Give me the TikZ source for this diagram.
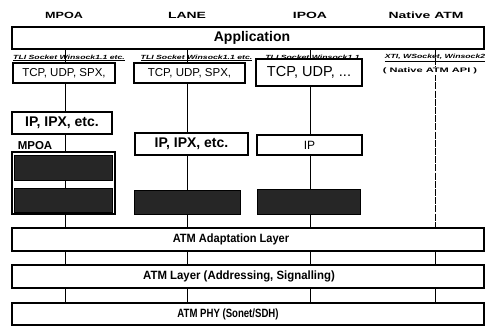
\documentclass[tikz,border=0pt]{standalone}
\usepackage{fontspec}
\setmainfont{Liberation Sans}
\begin{document}
\begin{tikzpicture}[x=1pt,y=-1pt,
  box/.style={draw=black,line width=1.1pt,fill=white,inner sep=0pt,anchor=center},
  darkbox/.style={draw=black,line width=0.8pt,fill=black!85,inner sep=0pt},
  link/.style={line width=1pt},
  hdr/.style={font=\fontsize{9}{9}\selectfont\bfseries},
  api/.style={font=\fontsize{6}{6.5}\selectfont\bfseries\itshape,inner sep=0pt},
  boxtxt/.style={font=\fontsize{11.5}{11.5}\selectfont},
  iptxt/.style={font=\fontsize{14}{14}\selectfont\bfseries},
  layertxt/.style={font=\fontsize{12}{12}\selectfont\bfseries},
]
\useasboundingbox (0,0) rectangle (490,329);
% column coordinates
\coordinate (c1) at (65,0);
\coordinate (c2) at (187,0);
\coordinate (c3) at (310,0);
\coordinate (c4) at (435,0);
% headers
\node[hdr] (h1) at (64,15) {\scalebox{1.4}[1]{MPOA}};
\node[hdr] (h2) at (187,15) {\scalebox{1.55}[1]{LANE}};
\node[hdr] (h3) at (310,15) {\scalebox{1.55}[1]{IPOA}};
\node[hdr] (h4) at (426,15) {\scalebox{1.55}[1]{Native ATM}};
% application
\node[box,minimum width=472pt,minimum height=22pt] (app) at (248,38) {};
\node[font=\fontsize{14}{14}\selectfont\bfseries] (apptxt) at (252,38) {Application};
% vertical connectors (drawn first, boxes cover them)
\draw[link] (app.south -| c1) -- (265,303 -| c1);
\draw[link] (app.south -| c2) -- (265,303 -| c2);
\draw[link] (app.south -| c3) -- (265,303 -| c3);
\draw[line width=0.9pt,dash pattern=on 7pt off 1.2pt] (app.south -| c4) -- (0,228 -| c4);
\draw[link] (0,251 -| c4) -- (0,303 -| c4);
% API labels
\node[api] (a1) at (69,58) {\scalebox{1.45}[1]{\underline{TLI Socket Winsock1.1 etc.}}};
\node[api] (a2) at (196.5,58) {\scalebox{1.45}[1]{\underline{TLI Socket Winsock1.1 etc.}}};
\node[api] (a3) at (312.5,58) {\scalebox{1.45}[1]{\underline{TLI Socket Winsock1.1}}};
\node[api] (a4) at (435,58) {\scalebox{1.45}[1]{\underline{XTI, WSocket, Winsock2}}};
\node[api,font=\fontsize{6.5}{7}\selectfont\bfseries,fill=white,inner sep=1pt] (napi) at (430,71) {\scalebox{1.7}[1]{( Native ATM API )}};
% TCP boxes
\node[box,minimum width=102pt,minimum height=20pt,boxtxt] (mtcp) at (64,73) {TCP, UDP, SPX,};
\node[box,minimum width=111pt,minimum height=20pt,boxtxt] (ltcp) at (189.5,73) {TCP, UDP, SPX,};
\node[box,minimum width=106pt,minimum height=27pt,font=\fontsize{14.5}{14.5}\selectfont] (itcp) at (309,72.5) {TCP, UDP, ...};
% IP boxes
\node[box,minimum width=100pt,minimum height=22pt,iptxt] (mip) at (62,123) {IP, IPX, etc.};
\node[box,minimum width=113pt,minimum height=22pt,iptxt] (lip) at (191.5,144) {IP, IPX, etc.};
\node[box,minimum width=105pt,minimum height=20pt,font=\fontsize{12}{12}\selectfont] (iip) at (309.5,145) {IP};
% MPOA group
\node[box,minimum width=103pt,minimum height=62pt] (mgrp) at (63.5,183) {};
\node[darkbox,minimum width=98pt,minimum height=25pt] (md1) at (63.5,167.5) {};
\node[darkbox,minimum width=98pt,minimum height=24pt] (md2) at (63.5,200) {};
\draw[link] (md1.south -| c1) -- (md2.north -| c1);
\node[font=\fontsize{11.5}{11.5}\selectfont\bfseries,inner sep=0pt] (mlab) at (35,146) {MPOA};
% LANE / IPOA dark boxes
\node[darkbox,minimum width=106pt,minimum height=24pt] (ld) at (187,202) {};
\node[darkbox,minimum width=103pt,minimum height=25pt] (id) at (308.5,201.5) {};
% ATM layers
\node[box,minimum width=472pt,minimum height=23pt] (aal) at (248,239.5) {};
\node[layertxt] (aaltxt) at (231,239.5) {\scalebox{0.92}[1]{ATM Adaptation Layer}};
\node[box,minimum width=472pt,minimum height=23pt] (atml) at (248,276.5) {};
\node[layertxt] (atmltxt) at (239,276.5) {\scalebox{0.95}[1]{ATM Layer (Addressing, Signalling)}};
\node[box,minimum width=472pt,minimum height=22pt] (phy) at (248,314) {};
\node[layertxt] (phytxt) at (228,314) {\scalebox{0.8}[1]{ATM PHY (Sonet/SDH)}};
\end{tikzpicture}
\end{document}
